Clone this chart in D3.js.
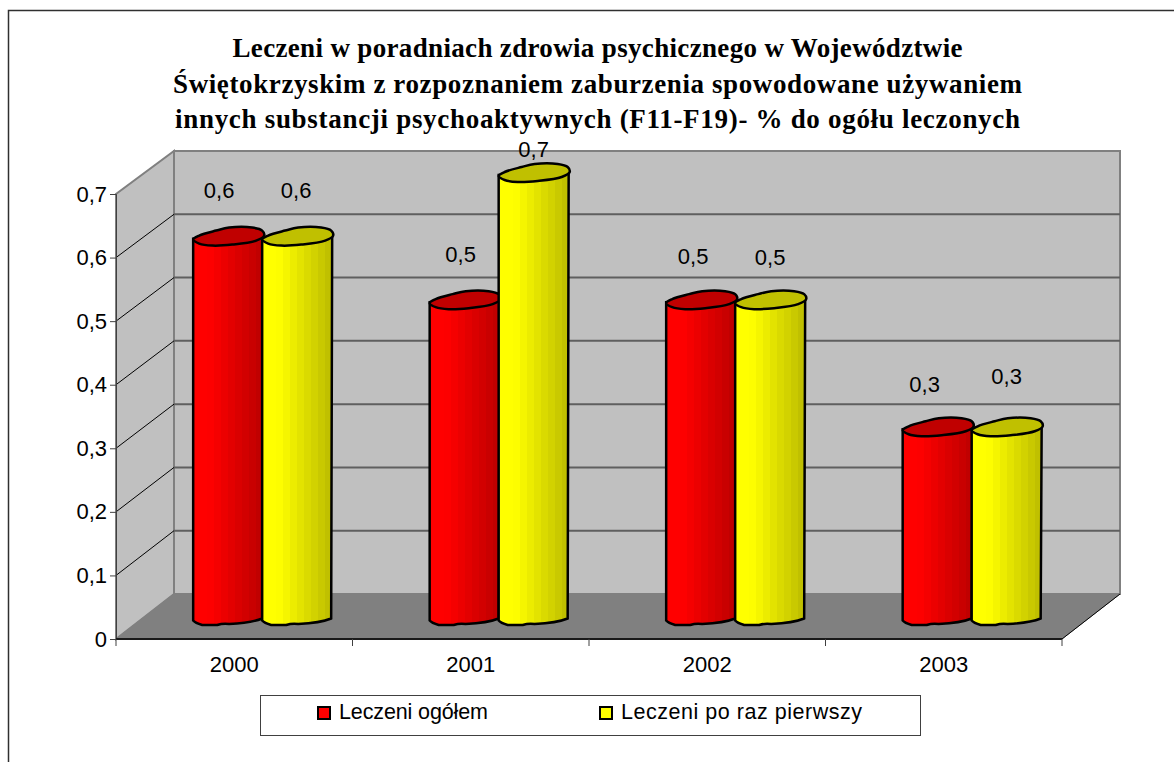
<!DOCTYPE html>
<html><head><meta charset="utf-8">
<script src="https://d3js.org/d3.v7.min.js"></script>
<style>html,body{margin:0;padding:0;background:#fff}svg{display:block}</style></head><body>
<svg id="c" width="1174" height="762"></svg>
<script>
const categories=["2000","2001","2002","2003"];
const seriesNames=["Leczeni ogółem","Leczeni po raz pierwszy"];
const ogolem=[0.6,0.5,0.5,0.3];
const pierwszy=[0.6,0.7,0.5,0.3];
const yTicks=[0,0.1,0.2,0.3,0.4,0.5,0.6,0.7];
const titleLines=["Leczeni w poradniach zdrowia psychicznego w Województwie","Świętokrzyskim z rozpoznaniem zaburzenia spowodowane używaniem","innych substancji psychoaktywnych (F11-F19)- % do ogółu leczonych"];
const titleWidths=[730,849,845];
const labelNudge=[[[-9,0],[-1,0]],[[-4,1],[0,23]],[[-8,3],[0,4]],[[-13,4],[0,-4]]];

const svg=d3.select("#c");
const dx=58;
const x=d3.scaleBand().domain(categories).range([116,1062]);
const y=d3.scaleLinear().domain([0,0.7]).range([639,194]);
const yBack=d3.scaleLinear().domain([0,0.7]).range([594,151]);
const inner=d3.scaleBand().domain([0,1]).range([-69,69]);
const fmt=v=>String(v).replace(".",",");
const defs=svg.append("defs");
function grad(id,c){
 const g=defs.append("linearGradient").attr("id",id);
 const n=10,sc=d3.scaleLinear().domain([0,.2,1]).range([c[0],c[0],c[1]]);
 d3.range(n).forEach(i=>{g.append("stop").attr("offset",i/n).attr("stop-color",sc(i/(n-1)));g.append("stop").attr("offset",(i+1)/n).attr("stop-color",sc(i/(n-1)));});
}
grad("gr",["#ff0000","#c00000"]);grad("gy",["#ffff00","#c0c000"]);

// frame
svg.append("path").attr("d","M8.5,762V10.5H1174").attr("fill","none").attr("stroke","#303030").attr("stroke-width",1.5);
// title
svg.append("g").selectAll("text").data(titleLines).join("text")
 .attr("x",597.5).attr("y",(d,i)=>57+i*35.5).attr("text-anchor","middle")
 .attr("font-family","Liberation Serif").attr("font-weight","bold").attr("font-size",27)
 .attr("textLength",(d,i)=>titleWidths[i]).attr("lengthAdjust","spacing").text(d=>d);
// walls
const x0=x.range()[0],x1=x.range()[1],y0=y(0),yT=y(.7),by0=yBack(0),byT=yBack(.7);
svg.append("path").attr("d",`M${x0},${y0}L${x0+dx},${by0}V${byT}L${x0},${yT}Z`).attr("fill","#c0c0c0").attr("stroke","#808080").attr("stroke-width",2);
svg.append("rect").attr("x",x0+dx).attr("y",byT).attr("width",x1-x0).attr("height",by0-byT).attr("fill","#c0c0c0").attr("stroke","#808080").attr("stroke-width",2);
svg.append("path").attr("d",`M${x0},${y0}L${x0+dx},${by0}H${x1+dx}L${x1},${y0}Z`).attr("fill","#808080").attr("stroke","#808080");
svg.append("line").attr("x1",x1).attr("x2",x1+dx).attr("y1",y0).attr("y2",by0).attr("stroke","#000");
// grid
yTicks.slice(1,-1).forEach(t=>{
 svg.append("line").attr("x1",x0+dx).attr("x2",x1+dx).attr("y1",yBack(t)).attr("y2",yBack(t)).attr("stroke","#5f5f5f").attr("stroke-width",2);
 svg.append("line").attr("x1",x0).attr("x2",x0+dx).attr("y1",y(t)).attr("y2",yBack(t)).attr("stroke","#000");
});
// axes
const ay=svg.append("g").attr("transform",`translate(${x0},0)`).call(d3.axisLeft(y).tickValues(yTicks).tickSize(6).tickPadding(3).tickFormat(t=>t===0?"0":fmt(t)));
ay.selectAll("text").attr("font-family","Liberation Sans").attr("font-size",22).attr("fill","#000");
ay.selectAll("line,path").attr("stroke","#404040");
svg.append("line").attr("x1",x0).attr("x2",x1).attr("y1",y0).attr("y2",y0).attr("stroke","#1a1a1a").attr("stroke-width",2);
d3.range(5).forEach(i=>{const px=x0+i*x.bandwidth();svg.append("line").attr("x1",px).attr("x2",px).attr("y1",y0).attr("y2",y0+7).attr("stroke","#404040");});
svg.append("g").selectAll("text").data(categories).join("text").attr("x",d=>x(d)+x.bandwidth()/2).attr("y",y0+33).attr("text-anchor","middle")
 .attr("font-family","Liberation Sans").attr("font-size",22).text(d=>d);
// bars
const w=inner.bandwidth()+1;
const lidLine=d3.line().curve(d3.curveCatmullRomClosed.alpha(.5));
function lid(cx,cy){ // irregular lid outline around the column centre
 const k=w/70;
 return [[-35,4],[-29,0],[-12,-5],[1,-8],[24,-8],[34,-5],[36,0],[28,5],[4,9],[-16,10],[-29,8]].map(p=>[cx+p[0]*k,cy+p[1]]);
}
function bar(i,s,v){
 const cat=categories[i];
 const cx=x(cat)+x.bandwidth()/2+inner(s)+inner.bandwidth()/2+dx*.49;
 const by=y(0)-22, ty=y(v)-22;
 const hw=w/2;
 const g=svg.append("g");
 const body=`M${cx-hw},${ty+3}V${by+3.5}Q${cx-hw+2},${by+6} ${cx-hw+9},${by+8}H${cx-hw+24}Q${cx-hw+30},${by+6} ${cx-hw+36},${by+7}Q${cx+hw-12},${by+6} ${cx+hw-1},${by+1.5}L${cx+hw},${ty-1}Z`;
 g.append("path").attr("d",body).attr("fill",`url(#${s?"gy":"gr"})`).attr("stroke","#000").attr("stroke-width",2.5);
 g.append("path").attr("d",lidLine(lid(cx,ty))).attr("fill",s?"#c0c000":"#c00000").attr("stroke","#000").attr("stroke-width",2.5);
 const n=labelNudge[i][s];
 svg.append("text").attr("x",cx+n[0]).attr("y",ty-38+n[1]).attr("text-anchor","middle").attr("font-family","Liberation Sans").attr("font-size",22).text(fmt(v));
}
categories.forEach((c,i)=>{bar(i,0,ogolem[i]);bar(i,1,pierwszy[i]);});
// legend
svg.append("rect").attr("x",260.5).attr("y",695.5).attr("width",660).attr("height",40).attr("fill","#fff").attr("stroke","#404040");
[[317,"#ff0000",339,149],[599,"#ffff00",621,241]].forEach((l,i)=>{
 svg.append("rect").attr("x",l[0]+1).attr("y",707).attr("width",12).attr("height",12).attr("fill",l[1]).attr("stroke","#000").attr("stroke-width",2);
 svg.append("text").attr("x",l[2]).attr("y",719).attr("font-family","Liberation Sans").attr("font-size",21.5).attr("textLength",l[3]).attr("lengthAdjust","spacing").text(seriesNames[i]);
});
</script></body></html>
